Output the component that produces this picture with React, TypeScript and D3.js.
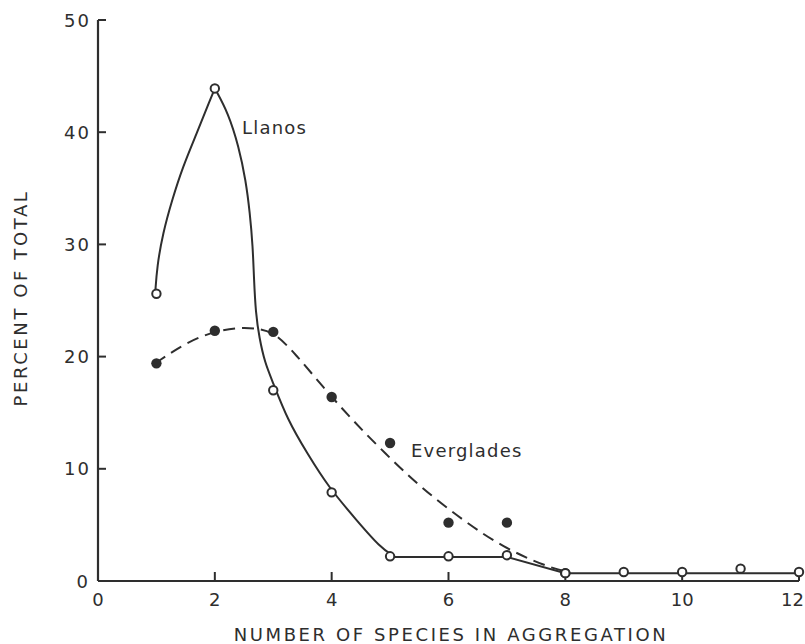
import React from "react";
import * as d3 from "d3";

// Observed data points
const speciesCount = [1, 2, 3, 4, 5, 6, 7, 8, 9, 10, 11, 12];
const llanosPct = [25.6, 43.9, 17.0, 7.9, 2.2, 2.2, 2.3, 0.7, 0.8, 0.8, 1.1, 0.8];
const evergladesX = [1, 2, 3, 4, 5, 6, 7, 8];
const evergladesPct = [19.4, 22.3, 22.2, 16.4, 12.3, 5.2, 5.2, 0.7];

// Hand-fitted curves
const llanosRiseX = [0.98, 1.01, 1.11, 1.27, 1.45, 1.69, 1.92, 2.0];
const llanosRiseY = [25.7, 28.0, 31.0, 34.0, 36.9, 39.9, 42.9, 43.9];
const llanosFallX = [2.0, 2.23, 2.41, 2.53, 2.6, 2.65, 2.67, 2.7, 2.76, 2.86, 2.98, 3.25, 3.58, 3.94, 4.43, 4.83, 5.08];
const llanosFallY = [43.9, 41.7, 38.7, 35.7, 32.8, 29.8, 26.9, 23.9, 21.7, 19.4, 17.9, 14.3, 11.4, 8.4, 5.4, 3.0, 2.15];
const llanosTailX = [5.08, 7, 8, 12];
const llanosTailY = [2.15, 2.15, 0.7, 0.7];
const evergladesFitX = [0.98, 1.52, 2.02, 2.43, 2.75, 3.03, 3.37, 3.85, 4.36, 4.91, 5.51, 6.25, 6.93, 7.69, 8.05];
const evergladesFitY = [19.4, 21.3, 22.3, 22.6, 22.5, 22.1, 20.3, 17.3, 14.3, 11.4, 8.4, 5.4, 3.0, 1.25, 0.8];

const xTicks = [0, 2, 4, 6, 8, 10, 12];
const yTicks = [0, 10, 20, 30, 40, 50];

const W = 805;
const H = 644;
const INK = "#2e2e2e";
const FONT = "'DejaVu Sans', sans-serif";

export default function App() {
  const x = d3.scaleLinear().domain([0, 12]).range([98, 799]);
  const y = d3.scaleLinear().domain([0, 50]).range([581, 20]);

  const smooth = d3
    .line<[number, number]>()
    .x((d) => x(d[0]))
    .y((d) => y(d[1]))
    .curve(d3.curveBasis);
  const straight = d3
    .line<[number, number]>()
    .x((d) => x(d[0]))
    .y((d) => y(d[1]));

  const zip = (a: number[], b: number[]) => a.map((v, i) => [v, b[i]] as [number, number]);

  return (
    <svg
      width={W}
      height={H}
      style={{ position: "absolute", left: 0, top: 0, background: "#fff" }}
    >
      {/* axes */}
      <line x1={x(0)} x2={x(0)} y1={y(50)} y2={y(0)} stroke={INK} strokeWidth={2.2} />
      <line x1={x(0)} x2={x(12)} y1={y(0)} y2={y(0)} stroke={INK} strokeWidth={2.2} />
      {yTicks.map((t) => (
        <g key={"y" + t}>
          <line x1={x(0)} x2={x(0) + 8} y1={y(t)} y2={y(t)} stroke={INK} strokeWidth={2} />
          <text
            x={t === 0 ? 90 : 91}
            y={y(t) + 6.5}
            textAnchor="end"
            fontFamily={FONT}
            fontSize={18}
            letterSpacing={2}
            fill={INK}
          >
            {t}
          </text>
        </g>
      ))}
      {xTicks.map((t, i) => (
        <g key={"x" + t}>
          {t > 0 && (
            <line x1={x(t)} x2={x(t)} y1={y(0)} y2={y(0) - 9} stroke={INK} strokeWidth={2} />
          )}
          <text
            x={i === xTicks.length - 1 ? 804 : x(t)}
            y={606}
            textAnchor={i === xTicks.length - 1 ? "end" : "middle"}
            fontFamily={FONT}
            fontSize={18}
            fill={INK}
          >
            {t}
          </text>
        </g>
      ))}
      <text
        x={451}
        y={641}
        textAnchor="middle"
        fontFamily={FONT}
        fontSize={18}
        letterSpacing={2.6}
        fill={INK}
      >
        NUMBER OF SPECIES IN AGGREGATION
      </text>
      <text
        transform={`translate(27,298) rotate(-90)`}
        textAnchor="middle"
        fontFamily={FONT}
        fontSize={18}
        letterSpacing={2.6}
        fill={INK}
      >
        PERCENT OF TOTAL
      </text>

      {/* curves */}
      <path d={smooth(zip(llanosRiseX, llanosRiseY)) || ""} fill="none" stroke={INK} strokeWidth={2} />
      <path d={smooth(zip(llanosFallX, llanosFallY)) || ""} fill="none" stroke={INK} strokeWidth={2} />
      <path d={straight(zip(llanosTailX, llanosTailY)) || ""} fill="none" stroke={INK} strokeWidth={2} />
      <path
        d={smooth(zip(evergladesFitX, evergladesFitY)) || ""}
        fill="none"
        stroke={INK}
        strokeWidth={2}
        strokeDasharray="12 7"
      />

      {/* points */}
      {evergladesX.map((v, i) => (
        <circle key={"e" + i} cx={x(v)} cy={y(evergladesPct[i])} r={5.2} fill={INK} />
      ))}
      {speciesCount.map((v, i) => (
        <circle
          key={"l" + i}
          cx={x(v)}
          cy={y(llanosPct[i])}
          r={4.2}
          fill="#fff"
          stroke={INK}
          strokeWidth={2}
        />
      ))}

      {/* labels */}
      <text x={242} y={134} fontFamily={FONT} fontSize={18} letterSpacing={1.2} fill={INK}>
        Llanos
      </text>
      <text x={411} y={457} fontFamily={FONT} fontSize={18} letterSpacing={1.2} fill={INK}>
        Everglades
      </text>
    </svg>
  );
}
